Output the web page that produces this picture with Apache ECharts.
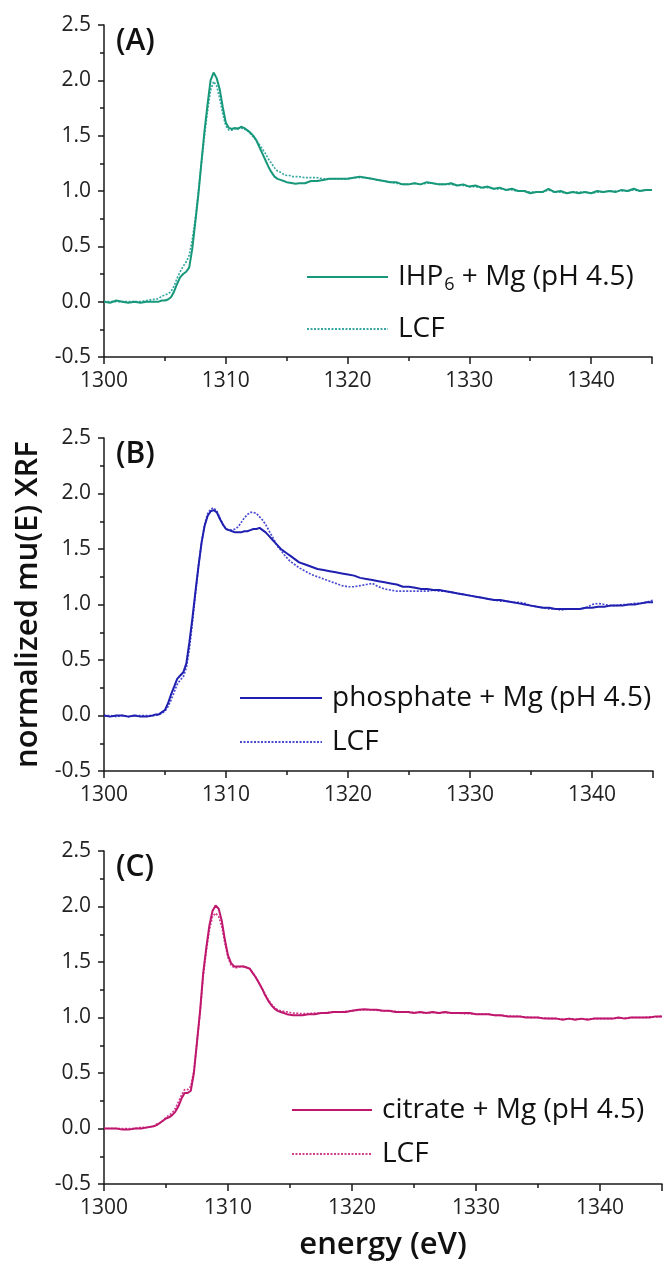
<!DOCTYPE html>
<html>
<head>
<meta charset="utf-8">
<script src="https://cdn.jsdelivr.net/npm/echarts@6/dist/echarts.min.js"></script>
<style>
html,body{margin:0;padding:0;background:#fff;}
#chart{width:672px;height:1272px;}
</style>
</head>
<body>
<div id="chart"></div>
<script>
// Shared energy grid (eV)
const energy = [
  1300,1300.5,1301,1301.5,1302,1302.5,1303,1303.5,1304,
  1304.25,1304.5,1304.75,1305,
  1305.25,1305.5,1305.75,1306,
  1306.25,1306.5,1306.75,1307,
  1307.25,1307.5,1307.75,1308,
  1308.25,1308.5,1308.75,1309,
  1309.25,1309.5,1309.75,1310,
  1310.25,1310.5,1310.75,1311,
  1311.25,1311.5,1311.75,1312,
  1312.25,1312.5,1312.75,1313,
  1313.25,1313.5,1313.75,1314,
  1314.25,1314.5,1314.75,1315,
  1315.25,1315.5,1315.75,1316,
  1316.5,1317,1317.5,1318,1318.5,1319,1319.5,1320,1320.5,1321,
  1321.5,1322,1322.5,1323,1323.5,1324,1324.5,1325,1325.5,1326,
  1326.5,1327,1327.5,1328,1328.5,1329,1329.5,1330,1330.5,1331,
  1331.5,1332,1332.5,1333,1333.5,1334,1334.5,1335,1335.5,1336,
  1336.5,1337,1337.5,1338,1338.5,1339,1339.5,1340,1340.5,1341,
  1341.5,1342,1342.5,1343,1343.5,1344,1344.5,1345
];

// (A) IHP6 + Mg
const ihpData = [
  0.00,-0.01,0.01,0.00,-0.01,0.00,-0.01,0.00,0.00,
  0.00,0.00,0.01,0.01,
  0.02,0.04,0.09,0.16,
  0.22,0.25,0.27,0.31,
  0.48,0.72,0.97,1.26,
  1.54,1.78,2.00,2.07,
  2.02,1.92,1.76,1.62,
  1.57,1.56,1.57,1.56,
  1.58,1.57,1.55,1.53,
  1.50,1.46,1.40,1.34,
  1.28,1.22,1.17,1.13,
  1.11,1.10,1.09,1.08,
  1.075,1.07,1.065,1.07,
  1.07,1.09,1.09,1.10,1.11,1.11,1.11,1.11,1.12,1.13,
  1.12,1.11,1.10,1.09,1.08,1.08,1.06,1.06,1.07,1.06,
  1.08,1.07,1.06,1.06,1.07,1.05,1.06,1.04,1.05,1.03,
  1.04,1.02,1.03,1.01,1.02,1.00,1.00,0.98,0.99,0.99,
  1.02,0.99,1.00,0.98,0.99,0.98,0.99,0.98,1.00,0.99,
  1.00,0.99,1.01,1.00,1.02,1.00,1.01,1.01
];
const ihpLcf = [
  0.00,0.00,0.00,0.00,0.00,0.00,0.00,0.01,0.02,
  0.02,0.03,0.05,0.06,
  0.07,0.09,0.14,0.21,
  0.27,0.32,0.36,0.42,
  0.56,0.75,0.99,1.25,
  1.50,1.72,1.91,1.99,
  1.95,1.84,1.70,1.59,
  1.55,1.55,1.56,1.57,
  1.57,1.56,1.55,1.52,
  1.49,1.46,1.42,1.38,
  1.34,1.29,1.25,1.21,
  1.18,1.17,1.15,1.14,
  1.14,1.13,1.13,1.13,
  1.12,1.12,1.12,1.11,1.11,1.11,1.11,1.11,1.12,1.12,
  1.12,1.11,1.10,1.09,1.08,1.07,1.06,1.06,1.07,1.06,
  1.07,1.07,1.06,1.06,1.06,1.05,1.05,1.04,1.04,1.03,
  1.03,1.02,1.02,1.01,1.01,1.00,1.00,0.99,0.99,0.99,
  1.01,0.99,0.99,0.98,0.99,0.99,0.99,0.98,0.99,0.99,
  1.00,1.00,1.00,1.00,1.01,1.00,1.01,1.01
];

// (B) phosphate + Mg
const phosData = [
  0.00,-0.01,0.00,0.00,-0.01,0.00,-0.01,-0.01,0.00,
  0.01,0.01,0.03,0.05,
  0.11,0.19,0.26,0.33,
  0.36,0.39,0.47,0.66,
  0.88,1.12,1.35,1.56,
  1.71,1.80,1.84,1.85,
  1.83,1.77,1.72,1.68,
  1.67,1.66,1.65,1.65,
  1.65,1.66,1.66,1.67,
  1.68,1.68,1.69,1.67,
  1.65,1.62,1.59,1.56,
  1.53,1.50,1.48,1.46,
  1.44,1.42,1.40,1.38,
  1.36,1.34,1.32,1.31,1.30,1.29,1.28,1.27,1.26,1.24,
  1.23,1.22,1.21,1.20,1.19,1.18,1.16,1.16,1.15,1.14,
  1.14,1.13,1.13,1.12,1.11,1.10,1.09,1.08,1.07,1.06,
  1.05,1.04,1.04,1.03,1.02,1.01,1.00,0.99,0.98,0.97,
  0.97,0.96,0.96,0.96,0.96,0.96,0.97,0.97,0.98,0.98,
  0.99,0.99,0.99,1.00,1.00,1.01,1.02,1.02
];
const phosLcf = [
  0.00,0.00,-0.01,0.00,-0.01,0.00,0.00,0.00,0.00,
  0.00,0.01,0.02,0.04,
  0.08,0.14,0.21,0.28,
  0.32,0.35,0.43,0.60,
  0.84,1.10,1.35,1.56,
  1.72,1.82,1.86,1.87,
  1.84,1.78,1.72,1.68,
  1.67,1.67,1.68,1.70,
  1.74,1.78,1.81,1.83,
  1.83,1.82,1.79,1.76,
  1.72,1.67,1.62,1.57,
  1.52,1.49,1.45,1.42,
  1.39,1.37,1.35,1.33,
  1.30,1.27,1.25,1.23,1.21,1.19,1.17,1.16,1.16,1.17,
  1.18,1.19,1.16,1.14,1.13,1.12,1.12,1.12,1.12,1.12,
  1.12,1.13,1.12,1.12,1.11,1.10,1.09,1.08,1.07,1.06,
  1.05,1.04,1.03,1.03,1.02,1.02,1.01,0.99,0.98,0.97,
  0.96,0.96,0.95,0.96,0.96,0.96,0.97,1.00,1.01,1.00,
  0.99,0.99,1.00,1.00,1.01,1.01,1.02,1.04
];

// (C) citrate + Mg
const citData = [
  0.00,0.00,0.00,-0.01,-0.01,0.00,0.00,0.01,0.02,
  0.03,0.05,0.07,0.09,
  0.10,0.12,0.15,0.20,
  0.27,0.32,0.32,0.34,
  0.50,0.78,1.06,1.40,
  1.63,1.83,1.96,2.01,
  1.98,1.87,1.70,1.56,
  1.49,1.46,1.46,1.46,
  1.46,1.45,1.44,1.40,
  1.36,1.31,1.26,1.20,
  1.15,1.11,1.08,1.06,
  1.05,1.04,1.03,1.025,
  1.02,1.02,1.02,1.02,
  1.03,1.03,1.04,1.04,1.05,1.05,1.05,1.06,1.07,1.075,
  1.07,1.07,1.06,1.06,1.05,1.05,1.05,1.04,1.05,1.04,
  1.05,1.04,1.05,1.04,1.04,1.04,1.04,1.03,1.03,1.03,
  1.02,1.02,1.01,1.01,1.01,1.00,1.00,1.00,0.99,0.99,
  0.99,0.98,0.99,0.98,0.99,0.98,0.99,0.99,0.99,0.99,
  1.00,0.99,1.00,1.00,1.00,1.00,1.01,1.01
];
const citLcf = [
  0.00,0.00,0.00,0.00,0.00,0.00,0.01,0.01,0.02,
  0.04,0.05,0.07,0.10,
  0.12,0.14,0.18,0.24,
  0.30,0.35,0.35,0.38,
  0.52,0.78,1.05,1.37,
  1.60,1.79,1.91,1.94,
  1.91,1.82,1.67,1.54,
  1.47,1.45,1.45,1.46,
  1.46,1.45,1.44,1.40,
  1.36,1.31,1.26,1.21,
  1.16,1.12,1.09,1.07,
  1.06,1.055,1.05,1.045,
  1.04,1.04,1.035,1.035,
  1.035,1.04,1.04,1.045,1.05,1.05,1.055,1.06,1.065,1.07,
  1.07,1.065,1.06,1.06,1.055,1.05,1.05,1.045,1.045,1.04,
  1.045,1.04,1.045,1.04,1.04,1.035,1.035,1.03,1.03,1.03,
  1.02,1.02,1.015,1.01,1.01,1.005,1.00,1.00,0.995,0.99,
  0.99,0.985,0.99,0.985,0.985,0.985,0.99,0.99,0.99,0.99,
  0.995,0.995,1.00,1.00,1.00,1.005,1.005,1.01
];

const yTicks = [-0.5, 0, 0.5, 1.0, 1.5, 2.0, 2.5];
const panelLabels = ['(A)', '(B)', '(C)'];
const dataNames = ['IHP6 + Mg (pH 4.5)', 'phosphate + Mg (pH 4.5)', 'citrate + Mg (pH 4.5)'];
const lcfNames = ['LCF (A)', 'LCF (B)', 'LCF (C)'];
const dataColors = ['#17987a', '#1f1fb0', '#c0176e'];
const lcfColors = ['#3aa9a6', '#4a4ad2', '#d0408e'];

const panels = [
  {data: ihpData, lcf: ihpLcf},
  {data: phosData, lcf: phosLcf},
  {data: citData, lcf: citLcf}
];

const FONT = 'Open Sans';
const grids = [
  {left: 104, right: 20, top: 25, height: 332},
  {left: 104, right: 19, top: 438, height: 333},
  {left: 104, right: 10, top: 851, height: 333}
];
const legendPos = [
  {left: 306, top: 260, itemGap: 18, itemWidth: 81},
  {left: 239, top: 681, itemGap: 10, itemWidth: 82},
  {left: 291, top: 1093, itemGap: 10, itemWidth: 80}
];

function pairs(xs, ys) { return xs.map((x, i) => [x, ys[i]]); }

const axisLineStyle = {color: '#1a1a1a', width: 1.5};

const option = {
  animation: false,
  backgroundColor: '#fff',
  textStyle: {fontFamily: FONT},
  grid: grids.map(g => Object.assign({containLabel: false}, g)),
  title: panelLabels.map((t, i) => ({
    text: t, left: 116, top: grids[i].top + 1, padding: 0,
    textStyle: {fontFamily: FONT, fontSize: 30, fontWeight: 600, color: '#111'}
  })),
  xAxis: grids.map((g, i) => ({
    type: 'value', gridIndex: i, min: 1300, max: 1345, interval: 10,
    axisLine: {show: true, onZero: false, lineStyle: axisLineStyle},
    axisTick: {show: true, length: 7, lineStyle: axisLineStyle},
    minorTick: {show: true, splitNumber: 2, length: 4, lineStyle: axisLineStyle},
    splitLine: {show: false},
    axisLabel: {show: true, showMaxLabel: false, fontFamily: FONT, fontSize: 21, color: '#222', margin: 14,
      formatter: v => String(v)},
    name: i === 2 ? 'energy (eV)' : '',
    nameLocation: 'middle', nameGap: 46,
    nameTextStyle: {fontFamily: FONT, fontSize: 31, fontWeight: 600, color: '#111'}
  })),
  yAxis: grids.map((g, i) => ({
    type: 'value', gridIndex: i, min: yTicks[0], max: yTicks[yTicks.length - 1], interval: 0.5,
    axisLine: {show: true, onZero: false, lineStyle: axisLineStyle},
    axisTick: {show: true, length: 6, lineStyle: axisLineStyle},
    minorTick: {show: true, splitNumber: 2, length: 4, lineStyle: axisLineStyle},
    splitLine: {show: false},
    axisLabel: {fontFamily: FONT, fontSize: 21, color: '#222', margin: 13,
      formatter: v => v.toFixed(1)},
    name: i === 1 ? 'normalized mu(E) XRF' : '',
    nameLocation: 'middle', nameGap: 52,
    nameTextStyle: {fontFamily: FONT, fontSize: 31, fontWeight: 600, color: '#111'}
  })),
  legend: panels.map((p, i) => ({
    data: [dataNames[i], lcfNames[i]],
    orient: 'vertical',
    left: legendPos[i].left, top: legendPos[i].top,
    itemGap: legendPos[i].itemGap,
    itemWidth: legendPos[i].itemWidth, itemHeight: 14,
    selectedMode: false,
    padding: 0,
    itemStyle: {opacity: 0, borderWidth: 0},
    formatter: name => {
      if (name.indexOf('LCF') === 0) return 'LCF';
      if (name.indexOf('IHP6') === 0) return 'IHP{sub|6} + Mg (pH 4.5)';
      return name;
    },
    textStyle: {
      fontFamily: FONT, fontSize: 28, color: '#111', lineHeight: 34, padding: [0, 0, 0, 5],
      rich: {sub: {fontFamily: FONT, fontSize: 18, color: '#111', verticalAlign: 'bottom', lineHeight: 34, padding: [12, 0, 0, 1]}}
    }
  })),
  series: panels.flatMap((p, i) => [
    {
      name: lcfNames[i], type: 'line', xAxisIndex: i, yAxisIndex: i,
      data: pairs(energy, p.lcf), symbol: 'none', showSymbol: false,
      lineStyle: {color: lcfColors[i], width: 1.7, type: [2, 1.5]},
      itemStyle: {color: lcfColors[i]}, z: 2
    },
    {
      name: dataNames[i], type: 'line', xAxisIndex: i, yAxisIndex: i,
      data: pairs(energy, p.data), symbol: 'none', showSymbol: false,
      lineStyle: {color: dataColors[i], width: 2},
      itemStyle: {color: dataColors[i]}, z: 3
    }
  ])
};

const chart = echarts.init(document.getElementById('chart'), null, {renderer: 'canvas'});
chart.setOption(option);
</script>
</body>
</html>
